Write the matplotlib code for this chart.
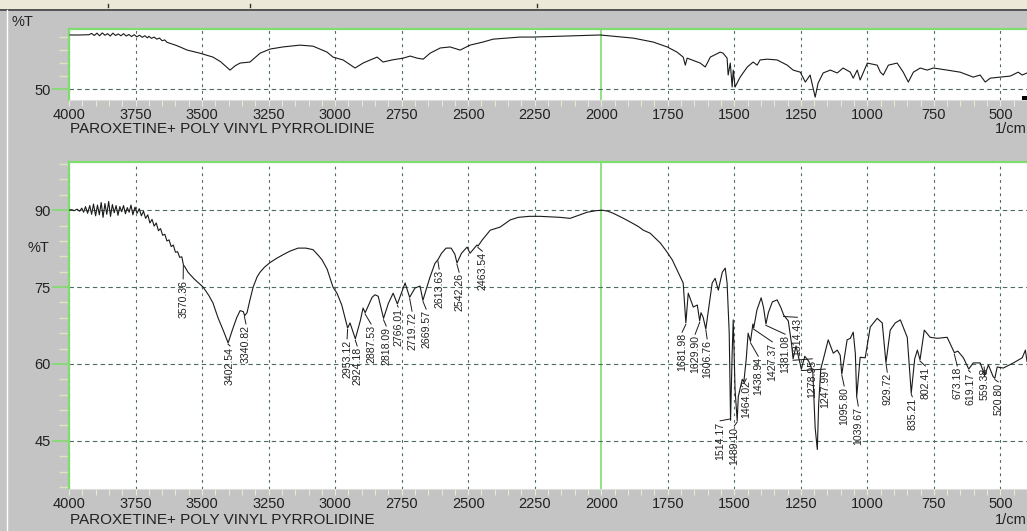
import numpy as np
import matplotlib
matplotlib.use("Agg")
import matplotlib.pyplot as plt
from matplotlib.patches import Rectangle
from matplotlib.lines import Line2D
from matplotlib.ticker import MultipleLocator, FixedLocator

plt.rcParams['font.family'] = ['Liberation Sans', 'DejaVu Sans']

# ---------------- data ----------------
title = "PAROXETINE+ POLY VINYL PYRROLIDINE"
x_ticks = [4000, 3750, 3500, 3250, 3000, 2750, 2500, 2250, 2000, 1750, 1500, 1250, 1000, 750, 500]

# top (overview) spectrum
wn_top = [3996, 3960, 3925, 3915, 3905, 3895, 3885, 3875, 3865, 3855, 3845, 3835, 3825, 3815,
          3805, 3795, 3785, 3775, 3765, 3755, 3745, 3735, 3725, 3715, 3705, 3700, 3690, 3680,
          3670, 3660, 3650, 3640, 3632, 3620, 3600, 3583, 3556, 3508, 3459, 3430, 3395, 3375,
          3357, 3320, 3282, 3244, 3196, 3132, 3083, 3030, 3008, 2970, 2945, 2925, 2895, 2868,
          2842, 2820, 2786, 2744, 2718, 2692, 2669, 2643, 2605, 2568, 2530, 2493, 2444, 2406,
          2354, 2305, 2256, 2128, 2004, 1880, 1805, 1752, 1715, 1692, 1684, 1677, 1628, 1609,
          1590, 1553, 1542, 1527, 1523, 1515, 1508, 1504, 1497, 1478, 1451, 1429, 1414, 1403,
          1376, 1339, 1301, 1279, 1252, 1233, 1215, 1196, 1185, 1166, 1139, 1113, 1091, 1064,
          1053, 1038, 1027, 1000, 963, 951, 940, 921, 888, 865, 846, 827, 801, 775, 752, 700,
          651, 602, 576, 557, 538, 500, 463, 433, 418, 400]
t_top = [70.8, 70.8, 70.9, 71.4, 70.6, 71.5, 70.5, 71.6, 70.7, 71.3, 70.4, 71.5, 70.6, 71.2,
         70.5, 71.3, 70.4, 71.0, 70.2, 70.9, 70.1, 70.7, 69.9, 70.5, 69.7, 70.3, 69.5, 70.0,
         69.2, 69.6, 68.6, 68.9, 68.0, 67.6, 66.9, 66.2, 65.0, 63.8, 62.3, 60.5, 57.3, 59.0,
         60.0, 60.4, 63.8, 65.4, 66.2, 66.9, 66.5, 64.2, 62.3, 61.2, 59.5, 58.1, 60.0, 61.2,
         62.3, 60.4, 61.2, 61.9, 62.7, 61.9, 61.5, 63.8, 65.8, 66.2, 65.0, 66.9, 68.1, 69.2,
         69.6, 70.0, 70.0, 70.4, 70.8, 69.6, 68.1, 66.2, 64.2, 62.3, 59.2, 61.9, 60.0, 58.5,
         62.3, 64.2, 63.8, 61.9, 55.4, 60.0, 50.8, 57.3, 50.8, 54.6, 58.5, 60.4, 59.2, 61.2,
         61.5, 61.2, 59.2, 57.3, 56.5, 52.7, 55.4, 46.9, 52.3, 56.2, 57.3, 56.2, 58.1, 56.5,
         54.2, 57.3, 53.5, 60.0, 59.2, 56.5, 55.4, 59.2, 60.0, 56.5, 52.7, 56.5, 58.1, 57.3,
         58.1, 57.3, 56.5, 54.6, 55.4, 52.7, 54.2, 54.6, 55.0, 56.5, 55.4, 56.2]

# bottom (main) spectrum
wn_bot = [4000, 3990, 3980, 3970, 3960, 3952, 3945, 3938, 3930, 3922, 3915, 3908, 3900, 3893,
          3886, 3879, 3872, 3865, 3858, 3851, 3844, 3837, 3830, 3823, 3816, 3809, 3802, 3795,
          3788, 3781, 3774, 3767, 3760, 3752, 3744, 3736, 3728, 3720, 3712, 3704, 3696, 3688,
          3680, 3672, 3664, 3656, 3648, 3640, 3632, 3624, 3616, 3608, 3600, 3592, 3584, 3576,
          3570, 3564, 3553, 3530, 3496, 3475, 3459, 3440, 3420, 3402, 3385, 3370, 3357, 3345,
          3340, 3331, 3320, 3308, 3293, 3282, 3265, 3244, 3220, 3196, 3170, 3139, 3110, 3083,
          3060, 3049, 3030, 3008, 2993, 2975, 2962, 2953, 2944, 2924, 2905, 2895, 2887, 2861,
          2850, 2838, 2818, 2800, 2782, 2766, 2737, 2720, 2700, 2681, 2670, 2655, 2643, 2625,
          2613, 2600, 2583, 2564, 2550, 2542, 2525, 2504, 2493, 2480, 2467, 2463, 2447, 2417,
          2380, 2342, 2312, 2270, 2230, 2190, 2154, 2117, 2085, 2053, 2020, 1997, 1975, 1955,
          1920, 1891, 1860, 1842, 1816, 1778, 1755, 1733, 1703, 1692, 1682, 1673, 1654, 1639,
          1630, 1625, 1617, 1607, 1583, 1572, 1560, 1545, 1534, 1527, 1519, 1514, 1508, 1504,
          1497, 1489, 1485, 1470, 1464, 1455, 1448, 1439, 1430, 1427, 1415, 1399, 1390, 1381,
          1372, 1357, 1339, 1325, 1314, 1297, 1285, 1279, 1268, 1248, 1235, 1220, 1205, 1196,
          1188, 1183, 1175, 1165, 1147, 1128, 1113, 1102, 1096, 1076, 1064, 1053, 1045, 1040,
          1027, 1008, 989, 963, 944, 930, 914, 895, 876, 850, 835, 822, 812, 802, 786, 764,
          737, 700, 673, 660, 639, 619, 602, 576, 559, 545, 527, 521, 512, 489, 451, 418, 406, 400]
t_bot = [90.0, 90.1, 89.9, 90.2, 89.8, 90.4, 89.6, 90.7, 89.4, 90.9, 89.2, 91.2, 88.9, 91.0,
         89.1, 91.5, 88.6, 91.3, 89.2, 91.7, 88.8, 91.1, 89.5, 90.9, 89.0, 90.7, 89.7, 90.9,
         89.3, 90.5, 89.6, 91.0, 89.1, 90.6, 89.4, 90.3, 88.9, 89.8, 88.4, 89.1, 87.5, 88.2,
         86.9, 87.5, 86.0, 86.4, 85.1, 85.3, 84.0, 84.2, 82.9, 83.2, 81.8, 81.9, 80.8, 80.9,
         79.3, 78.9, 77.9, 76.6, 75.0, 73.4, 71.9, 69.0, 66.5, 64.1, 66.8, 69.0, 70.4, 70.2,
         69.4, 70.0, 72.5, 75.0, 77.0, 77.9, 78.9, 79.8, 80.6, 81.3, 82.0, 82.6, 82.6, 82.3,
         81.0, 80.3, 78.5, 75.0, 73.8, 71.5, 68.8, 67.0, 68.0, 64.9, 68.5, 70.9, 70.0, 73.0,
         73.5, 73.2, 68.9, 71.8, 73.8, 71.7, 75.8, 73.0, 74.8, 75.2, 72.4, 75.0, 77.0, 79.6,
         80.4, 81.6, 82.6, 82.6, 81.4, 79.7, 81.6, 82.8, 81.6, 82.4, 83.2, 83.0, 84.2, 86.1,
         86.7, 88.1, 88.6, 88.8, 88.8, 88.7, 88.6, 88.4, 89.0, 89.6, 89.9, 90.0, 89.8, 89.4,
         88.5, 87.7, 86.8, 86.1, 85.5, 83.6, 82.0, 80.3, 77.0, 75.8, 68.0, 73.8, 71.1, 71.5,
         68.4, 70.0, 69.1, 66.8, 75.8, 76.7, 74.4, 77.9, 78.7, 75.8, 66.0, 49.0, 62.0, 68.6,
         54.9, 48.9, 53.6, 57.0, 56.5, 61.0, 66.0, 64.4, 67.8, 67.0, 70.5, 72.9, 71.0, 67.8,
         70.0, 72.1, 72.5, 71.0, 69.5, 68.4, 64.0, 61.0, 63.5, 59.0, 61.5, 60.5, 58.5, 47.5,
         43.3, 52.0, 59.0, 61.0, 64.7, 62.1, 62.7, 61.7, 58.0, 64.7, 65.0, 66.2, 62.0, 53.6,
         61.3, 61.2, 67.2, 68.9, 68.0, 60.2, 66.6, 68.0, 68.6, 65.2, 54.3, 61.0, 62.7, 60.8,
         66.6, 65.2, 65.0, 65.2, 62.2, 62.5, 61.2, 59.0, 60.2, 60.2, 57.8, 59.8, 57.5, 57.2,
         59.4, 59.2, 60.2, 61.2, 62.7, 60.5]

# peak labels: text, label x (cm-1), label top (%T)
peak_labels = ["3570.36", "3402.54", "3340.82", "2953.12", "2924.18", "2887.53", "2818.09",
               "2766.01", "2719.72", "2669.57", "2613.63", "2542.26", "2463.54", "1681.98",
               "1629.90", "1606.76", "1514.17", "1489.10", "1464.02", "1438.94", "1427.37",
               "1381.08", "1314.43", "1278.95", "1247.99", "1095.80", "1039.67", "929.72",
               "835.21", "802.41", "673.18", "619.17", "559.38", "520.80"]
label_x = [3571, 3395, 3335, 2955, 2917, 2865, 2808, 2763, 2711, 2658, 2609, 2534, 2447, 1696,
           1647, 1602, 1553, 1500, 1455, 1410, 1357, 1309, 1263, 1207, 1158, 1087, 1034, 925,
           831, 782, 662, 613, 561, 508]
label_top = [76.4, 63.3, 67.6, 64.7, 63.3, 67.6, 67.2, 70.9, 70.1, 70.5, 78.3, 77.7, 81.8, 66.0,
             65.6, 64.7, 48.7, 47.7, 56.9, 61.3, 64.1, 65.6, 68.9, 60.8, 58.8, 55.5, 51.6, 58.2,
             53.4, 59.4, 59.4, 58.2, 59.2, 56.3]

# ---------------- style ----------------
W, H = 1027, 531
BG = '#c4c4c4'
GREEN = '#7fdc6e'
PALE = '#e4ecd4'
GRID = '#4d6d60'
TXT = '#222222'

fig = plt.figure(figsize=(W / 100, H / 100), dpi=100, facecolor=BG)

# window chrome at the very top
fig.patches.append(Rectangle((0, 1 - 9 / H), 1, 9 / H, transform=fig.transFigure,
                             facecolor='#ece9d8', edgecolor='none', zorder=0))
fig.lines.append(Line2D([0, 1], [1 - 9.5 / H, 1 - 9.5 / H], transform=fig.transFigure,
                        color='#404040', lw=1.2))
fig.lines.append(Line2D([6.5 / W, 6.5 / W], [0, 1 - 10 / H], transform=fig.transFigure,
                        color='white', lw=1.0))
for xm in (108, 250, 537):
    fig.lines.append(Line2D([xm / W, xm / W], [1 - 7 / H, 1 - 4 / H], transform=fig.transFigure,
                            color='#333333', lw=1.0))

left = 69 / W
ax1 = fig.add_axes([left, 1 - 100 / H, 1 - left, 71 / H])
ax2 = fig.add_axes([left, 1 - 489 / H, 1 - left, 327 / H])


def style(ax, ymin, ymax, ymajor, yminor):
    ax.set_facecolor('white')
    ax.set_xlim(4000, 400)
    ax.set_ylim(ymin, ymax)
    ax.spines['right'].set_visible(False)
    ax.spines['left'].set_color(GREEN)
    ax.spines['left'].set_linewidth(1.6)
    ax.spines['top'].set_color(GREEN)
    ax.spines['top'].set_linewidth(1.6)
    ax.spines['bottom'].set_color('#dcdcdc')
    ax.spines['bottom'].set_linewidth(0.8)
    ax.xaxis.set_major_locator(FixedLocator(x_ticks))
    ax.xaxis.set_minor_locator(MultipleLocator(50))
    ax.yaxis.set_major_locator(FixedLocator(ymajor))
    ax.yaxis.set_minor_locator(FixedLocator(yminor))
    ax.tick_params(axis='x', which='both', direction='out', length=4, width=0.8,
                   color=PALE, labelsize=10.5, labelcolor=TXT, pad=2)
    ax.tick_params(axis='y', which='major', direction='out', length=12, width=1.2,
                   color=GREEN, labelsize=10.5, labelcolor=TXT, pad=1)
    ax.tick_params(axis='y', which='minor', direction='out', length=7, width=1.0,
                   color='#d8e8b8')
    for w in x_ticks:
        if w == 2000:
            ax.axvline(w, color=GREEN, lw=1.2, zorder=1)
        else:
            ax.axvline(w, color=GRID, lw=0.8, ls=(0, (2.5, 3.5)), zorder=1)
    for t in ymajor:
        ax.axhline(t, color=GRID, lw=0.8, ls=(0, (4, 3)), zorder=1)


style(ax1, 45.8, 73.1, [50], [55, 60, 65, 70])
style(ax2, 35.6, 99.4, [45, 60, 75, 90], list(range(36, 100, 3)))

ax1.plot(wn_top, t_top, color='#1a1a1a', lw=0.8, zorder=3)
ax2.plot(wn_bot, t_bot, color='#1a1a1a', lw=0.8, zorder=3)

# peak labels with leader lines
wb = np.array(wn_bot)[::-1]
tb = np.array(t_bot)[::-1]
for lab, lx, lt in zip(peak_labels, label_x, label_top):
    pw = float(lab)
    pt = np.interp(pw, wb, tb)
    ax2.plot([pw, lx], [pt - 0.3, lt + 0.2], color='#1a1a1a', lw=0.7, zorder=3)
    ax2.text(lx, lt, lab, rotation=90, ha='center', va='top', fontsize=7.6,
             color=TXT, zorder=4)

# %T labels
fig.text(12 / W, 1 - 22 / H, '%T', fontsize=10.5, color=TXT, va='center', ha='left')
fig.text(28 / W, 1 - 248 / H, '%T', fontsize=10.5, color=TXT, va='center', ha='left')

# titles and units
for yc in (129, 520):
    fig.text(70 / W, 1 - yc / H, title, fontsize=11, color=TXT, va='center', ha='left')
    fig.text(1027 / W, 1 - yc / H, '1/cm', fontsize=10.5, color=TXT, va='center', ha='right')

# small black marker at right of top panel
fig.patches.append(Rectangle((1022 / W, 1 - 100 / H), 5 / W, 4 / H, transform=fig.transFigure,
                             facecolor='black', edgecolor='none', zorder=5))

fig.savefig('out.png', dpi=100, facecolor=BG)
